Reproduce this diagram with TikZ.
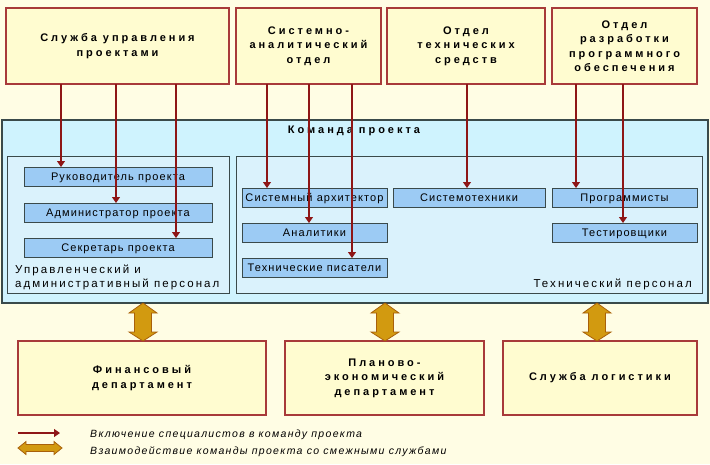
\documentclass[tikz,border=0pt]{standalone}
\usepackage{fontspec}
\setmainfont{Liberation Sans}
\newfontfamily\widebold{Liberation Sans}[LetterSpace=27]
\newfontfamily\widereg{Liberation Sans}[LetterSpace=10]
\newfontfamily\widelab{Liberation Sans}[LetterSpace=18]
\newfontfamily\wideit{Liberation Sans}[LetterSpace=12.5]
\usetikzlibrary{arrows.meta,calc}
\definecolor{bgc}{HTML}{FFFDE4}
\definecolor{topfill}{HTML}{FFFCD0}
\definecolor{redb}{HTML}{A83A3A}
\definecolor{teamfill}{HTML}{CFF3FE}
\definecolor{innerfill}{HTML}{DAF2FC}
\definecolor{bluefill}{HTML}{9CCBF4}
\definecolor{darkb}{HTML}{3A4A4A}
\definecolor{arrc}{HTML}{8E1616}
\definecolor{goldf}{HTML}{D29A10}
\definecolor{goldd}{HTML}{A8600A}
\tikzset{
  deptbox/.style={draw=redb, line width=1.2pt, fill=topfill, anchor=north west, inner sep=0pt, outer sep=0pt, align=center, font=\widebold\bfseries\fontsize{11}{14.5}\selectfont},
  teambox/.style={draw=darkb, line width=1.2pt, fill=teamfill, anchor=north west, inner sep=0pt, outer sep=0pt},
  groupbox/.style={draw=darkb, line width=1pt, fill=innerfill, anchor=north west, inner sep=0pt, outer sep=0pt},
  rolebox/.style={draw=darkb, line width=1pt, fill=bluefill, anchor=north west, inner sep=0pt, outer sep=0pt, text height=7.6pt, text depth=0pt, font=\widereg\fontsize{11}{12}\selectfont},
  incl/.style={draw=arrc, line width=1.1pt, -{Triangle[width=8pt,length=6pt]}},
  inter/.style={fill=goldf, draw=goldd, line width=0.8pt, line join=miter},
  grouplabel/.style={font=\widelab\fontsize{11.5}{14.5}\selectfont, inner sep=0pt, align=left},
  legtext/.style={font=\wideit\itshape\fontsize{10.5}{12}\selectfont, anchor=base west, inner sep=0pt}
}
\begin{document}
\begin{tikzpicture}[x=1pt,y=-1pt]
\useasboundingbox (0,0) rectangle (710,464);
\fill[bgc] (0,0) rectangle (710,464);
% top departments
\node[deptbox, minimum width=223pt, minimum height=76pt] (d1) at (6,8) {Служба управления\\проектами};
\node[deptbox, minimum width=145pt, minimum height=76pt] (d2) at (236,8) {Системно-\\аналитический\\отдел};
\node[deptbox, minimum width=158pt, minimum height=76pt] (d3) at (387,8) {Отдел\\технических\\средств};
\node[deptbox, minimum width=145pt, minimum height=76pt] (d4) at (552,8) {Отдел\\разработки\\программного\\обеспечения};
% team
\node[teambox, minimum width=706pt, minimum height=183pt] (team) at (2,120) {};
\node[font=\widebold\bfseries\fontsize{11}{12}\selectfont, inner sep=0pt] (teamt) at (354,131) {Команда проекта};
\node[groupbox, minimum width=222pt, minimum height=137pt] (gl) at (7,156) {};
\node[groupbox, minimum width=466pt, minimum height=137pt] (gr) at (236,156) {};
\node[grouplabel, anchor=north west] (gll) at (15,264.5) {Управленческий и\\административный персонал};
\node[grouplabel, anchor=base east] (grl) at (692,287) {Технический персонал};
% roles
\node[rolebox, minimum width=188pt, minimum height=19pt] (r1) at (24,167) {Руководитель проекта};
\node[rolebox, minimum width=188pt, minimum height=19pt] (r2) at (24,203) {Администратор проекта};
\node[rolebox, minimum width=188pt, minimum height=19pt] (r3) at (24,238) {Секретарь проекта};
\node[rolebox, minimum width=145pt, minimum height=19pt] (r4) at (242,188) {Системный архитектор};
\node[rolebox, minimum width=145pt, minimum height=19pt] (r5) at (242,223) {Аналитики};
\node[rolebox, minimum width=145pt, minimum height=19pt] (r6) at (242,258) {Технические писатели};
\node[rolebox, minimum width=152pt, minimum height=19pt] (r7) at (393,188) {Системотехники};
\node[rolebox, minimum width=145pt, minimum height=19pt] (r8) at (552,188) {Программисты};
\node[rolebox, minimum width=145pt, minimum height=19pt] (r9) at (552,223) {Тестировщики};
% inclusion arrows
\draw[incl] ([xshift=55pt]d1.south west) -- ([xshift=55pt]d1.south west |- r1.north);
\draw[incl] ([xshift=110pt]d1.south west) -- ([xshift=110pt]d1.south west |- r2.north);
\draw[incl] ([xshift=170pt]d1.south west) -- ([xshift=170pt]d1.south west |- r3.north);
\draw[incl] ([xshift=31pt]d2.south west) -- ([xshift=31pt]d2.south west |- r4.north);
\draw[incl] ([xshift=73pt]d2.south west) -- ([xshift=73pt]d2.south west |- r5.north);
\draw[incl] ([xshift=116pt]d2.south west) -- ([xshift=116pt]d2.south west |- r6.north);
\draw[incl] ([xshift=80pt]d3.south west) -- ([xshift=80pt]d3.south west |- r7.north);
\draw[incl] ([xshift=24pt]d4.south west) -- ([xshift=24pt]d4.south west |- r8.north);
\draw[incl] ([xshift=71pt]d4.south west) -- ([xshift=71pt]d4.south west |- r9.north);
% bottom departments
\node[deptbox, minimum width=248pt, minimum height=74pt] (b1) at (18,341) {Финансовый\\департамент};
\node[deptbox, minimum width=199pt, minimum height=74pt] (b2) at (285,341) {Планово-\\экономический\\департамент};
\node[deptbox, minimum width=194pt, minimum height=74pt] (b3) at (503,341) {Служба логистики};
% interaction arrows
\foreach \xx/\bb/\nn in {143/b1/1, 385/b2/2, 597/b3/3} {
  \coordinate (t\nn) at (team.south -| \xx,0);
  \coordinate (u\nn) at (\bb.north -| \xx,0);
  \draw[inter] (t\nn) -- ++(14,10) -- ++(-5.5,0) -- ($(u\nn)+(8.5,-9)$) -- ++(5.5,0) -- (u\nn)
     -- ++(-14,-9) -- ++(5.5,0) -- ($(t\nn)+(-8.5,10)$) -- ++(-5.5,0) -- cycle;
}
% legend
\coordinate (la) at (18,433);
\coordinate (lb) at (60,433);
\draw[incl] (la) -- (lb);
\coordinate (lc) at (18,448);
\coordinate (ld) at (62,448);
\draw[inter] (lc) -- ++(8,-6.5) -- ++(0,3) -- ($(ld)+(-8,-3.5)$) -- ++(0,-3) -- (ld)
   -- ++(-8,6.5) -- ++(0,-3) -- ($(lc)+(8,3.5)$) -- ++(0,3) -- cycle;
\node[legtext] (lt1) at (90,437) {Включение специалистов в команду проекта};
\node[legtext] (lt2) at (90,454) {Взаимодействие команды проекта со смежными службами};
\end{tikzpicture}
\end{document}
